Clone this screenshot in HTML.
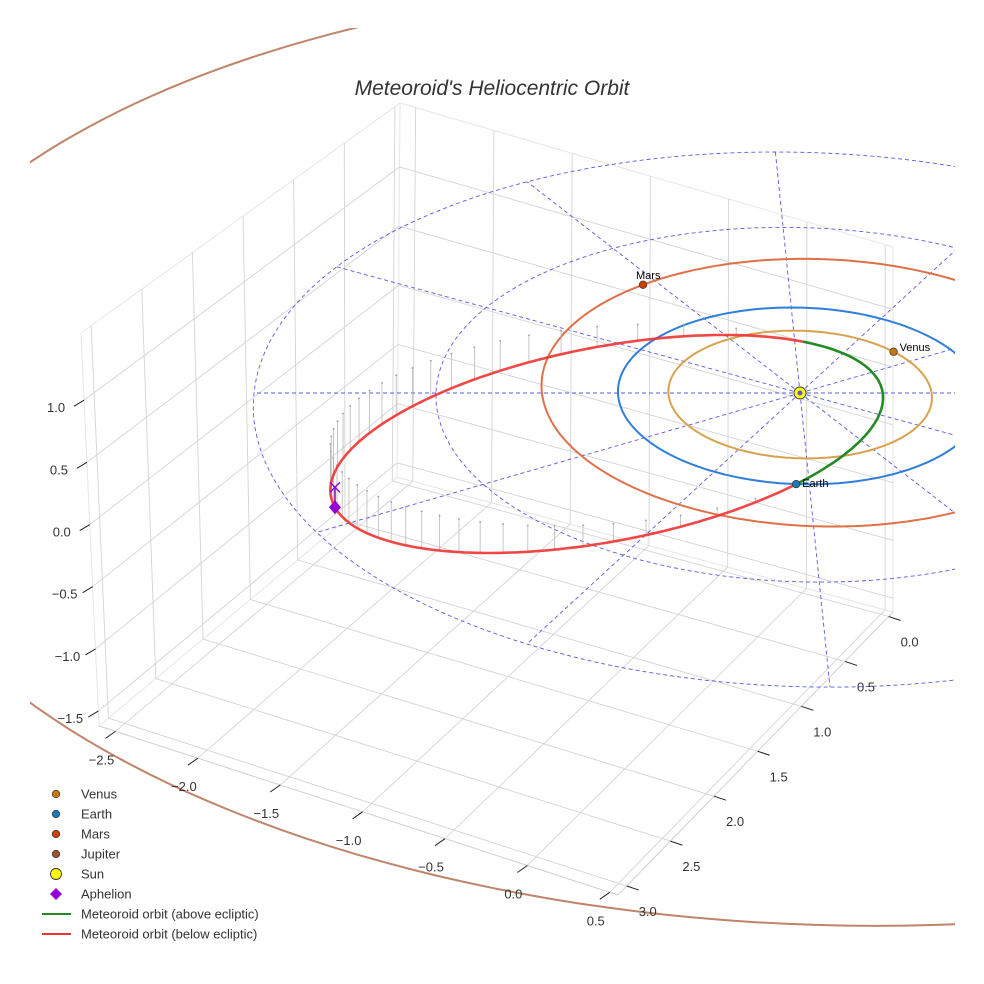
<!DOCTYPE html>
<html><head><meta charset="utf-8">
<style>
html,body{margin:0;padding:0;background:#fff;}
svg{display:block;font-family:"Liberation Sans",sans-serif;}
</style></head>
<body>
<svg id="chart" width="984" height="984" viewBox="0 0 984 984" xmlns="http://www.w3.org/2000/svg">
<defs><clipPath id="clip"><rect x="30" y="28" width="925" height="940"/></clipPath></defs>
<text x="492" y="95" text-anchor="middle" font-size="21" font-style="italic" fill="#333">Meteoroid's Heliocentric Orbit</text>
<g id="box"></g>
<g id="scene" clip-path="url(#clip)"></g>
<g id="ticks"></g>
<g id="legend"></g>
</svg>
<script>
// ---- data ----
const xTicks=[-2.5,-2.0,-1.5,-1.0,-0.5,0.0,0.5];
const yTicks=[0.0,0.5,1.0,1.5,2.0,2.5,3.0];
const zTicks=[-1.5,-1.0,-0.5,0.0,0.5,1.0];
const xRange=[-2.6,0.55];
const yRange=[-0.05,3.1];
const zRange=[-1.62,1.54];
const planetNames=["Venus","Earth","Mars","Jupiter"];
const planetRadius=[0.723,1.0,1.52,5.28];
const planetCenterU=[0,0,0.1,0.1];
const planetCenterV=[0,0,-0.08,-0.25];
const planetAngle=[-41,94,232,-10];
const planetColor=["#c8770f","#1f77b4","#c8400a","#a0522d"];
const orbitColor=["#d9a24e","#2f7fd8","#e0704a","#bf8469"];
const gridRadii=[1,2,3];
const gridSpokes=[0,30,60,90,120,150,180,210,240,270,300,330];
const meteorA=[1.5375];
const meteorE=[0.717];
const meteorPeriDeg=[-16.7];
const meteorNodeDeg=[-86];
const meteorIncl=[0.15];
const legendLabels=["Venus","Earth","Mars","Jupiter","Sun","Aphelion","Meteoroid orbit (above ecliptic)","Meteoroid orbit (below ecliptic)"];

const NS="http://www.w3.org/2000/svg";
function mk(tag,attrs,parent){const e=document.createElementNS(NS,tag);for(const k in attrs)e.setAttribute(k,attrs[k]);parent.appendChild(e);return e;}
const lerp=(a,b,t)=>[a[0]+(b[0]-a[0])*t,a[1]+(b[1]-a[1])*t];
// box corners (screen)
const L=[99,726],F=[618,895],B=[397,477],R=[893,612],LT=[81,333],BT=[400,103],RT=[893,247];
const fx=x=>(x-xRange[0])/(xRange[1]-xRange[0]);
const fy=y=>(y-yRange[0])/(yRange[1]-yRange[0]);
const fz=z=>(z-zRange[0])/(zRange[1]-zRange[0]);
const box=document.getElementById('box');
function gl(p,q,c,w){const l=mk('line',{x1:p[0],y1:p[1],x2:q[0],y2:q[1],stroke:c||'#d4d4d4','stroke-width':w||0.9},box);

}
// pane edges
[[L,B],[B,R],[B,BT],[L,LT],[LT,BT],[BT,RT],[R,RT]].forEach(s=>gl(s[0],s[1],'#e6e6e6',1));
gl(L,F,'#d0d0d0',1);gl(R,F,'#d0d0d0',1);
xTicks.forEach(x=>{const t=fx(x);gl(lerp(L,F,t),lerp(B,R,t));gl(lerp(B,R,t),lerp(BT,RT,t));});
yTicks.forEach(y=>{const s=fy(y);gl(lerp(B,L,s),lerp(R,F,s));gl(lerp(B,L,s),lerp(BT,LT,s));});
zTicks.forEach(z=>{const w=fz(z);gl(lerp(B,BT,w),lerp(L,LT,w));gl(lerp(B,BT,w),lerp(R,RT,w));});

// ticks
const tk=document.getElementById('ticks');
function tick(p,d,lab,off,name){
 const l=mk('line',{x1:p[0],y1:p[1],x2:p[0]+d[0],y2:p[1]+d[1],stroke:'#222','stroke-width':1},tk);
 
 
 const t=mk('text',{x:p[0]+off[0],y:p[1]+off[1],'text-anchor':'middle','font-size':13,fill:'#333'},tk);
 
 
 t.textContent=lab;}
const fmt=v=>(v<0?'\u2212':'')+Math.abs(v).toFixed(1);
xTicks.forEach(x=>tick(lerp(L,F,fx(x)),[-10,7],fmt(x),[-14,33],'x-tick'));
yTicks.forEach(y=>tick(lerp(R,F,fy(y)),[12,4],fmt(y),[21,30],'y-tick'));
zTicks.forEach(z=>tick(lerp(L,LT,fz(z)),[-10,6],fmt(z),[-28,12],'z-tick'));

// ecliptic projection
function P(u,v,z){const d=1-0.0331*v;return [800+(182*u+9*v)/d,393+(88.3*v-120*(z||0))/d];}
const sc=document.getElementById('scene');
function poly(pts,attrs,name){const p=mk('polyline',Object.assign({points:pts.map(q=>q[0].toFixed(1)+','+q[1].toFixed(1)).join(' '),fill:'none'},attrs),sc);
 
 return p;}
function circ(cu,cv,r){const a=[];for(let i=0;i<=240;i++){const t=i/240*2*Math.PI;a.push(P(cu+r*Math.cos(t),cv+r*Math.sin(t)));}return a;}
// Jupiter orbit
poly(circ(planetCenterU[3],planetCenterV[3],planetRadius[3]),{stroke:orbitColor[3],'stroke-width':2},'jupiter-orbit');
// dashed grid
gridRadii.forEach(r=>poly(circ(0,0,r),{stroke:'#5a5ae6','stroke-width':0.9,'stroke-dasharray':'4,3'},'ecliptic-grid-circle'));
gridSpokes.forEach(a=>{const t=a*Math.PI/180;poly([P(0,0),P(3*Math.cos(t),3*Math.sin(t))],{stroke:'#5a5ae6','stroke-width':0.9,'stroke-dasharray':'4,3'},'ecliptic-grid-spoke');});
// planet orbits
for(let i=0;i<3;i++)poly(circ(planetCenterU[i],planetCenterV[i],planetRadius[i]),{stroke:orbitColor[i],'stroke-width':2},planetNames[i].toLowerCase()+'-orbit');

// meteoroid orbit
const a=meteorA[0],e=meteorE[0],w=meteorPeriDeg[0]*Math.PI/180,Om=meteorNodeDeg[0]*Math.PI/180,k=meteorIncl[0];
function pos(f){const r=a*(1-e*e)/(1+e*Math.cos(f));const th=f+w;return [r*Math.cos(th),r*Math.sin(th),r*k*Math.sin(th-Om)];}
const N=400,pts=[];
for(let i=0;i<=N;i++){const M=i/N*2*Math.PI;let E=M;for(let j=0;j<30;j++)E=E-(E-e*Math.sin(E)-M)/(1-e*Math.cos(E));
 const f=2*Math.atan2(Math.sqrt(1+e)*Math.sin(E/2),Math.sqrt(1-e)*Math.cos(E/2));pts.push(pos(f));}
// stems
pts.forEach((p,i)=>{if(i%8!==4||p[2]>=0)return;const s=P(p[0],p[1],p[2]),g=P(p[0],p[1],0);
 const l=mk('line',{x1:s[0],y1:s[1],x2:g[0],y2:g[1],stroke:'#b8b8b8','stroke-width':0.8},sc);
 
 
 const d=mk('circle',{cx:g[0],cy:g[1],r:0.9,fill:'#999'},sc);
 
 });
// segments by sign
let seg=[],sign=null;
function flush(){if(seg.length>1)poly(seg,{stroke:sign>0?'#228b22':'#ee3333','stroke-width':2.6,'stroke-linejoin':'round','stroke-opacity':sign>0?1:0.9},sign>0?'meteoroid-orbit-above':'meteoroid-orbit-below');}
pts.forEach(p=>{const s=p[2]>=0?1:-1;const q=P(p[0],p[1],p[2]);if(sign!==null&&s!==sign){seg.push(q);flush();seg=[q];}else seg.push(q);sign=s;});
flush();
// aphelion
const ap=pos(Math.PI),apS=P(ap[0],ap[1],ap[2]);
const apl=mk('line',{x1:apS[0],y1:apS[1],x2:apS[0],y2:apS[1]-20,stroke:'#9a40c0','stroke-width':2},sc);


const xm=mk('path',{d:`M${apS[0]-5},${apS[1]-25}L${apS[0]+5},${apS[1]-15}M${apS[0]+5},${apS[1]-25}L${apS[0]-5},${apS[1]-15}`,stroke:'#9400d3','stroke-width':1.4},sc);


const dm=mk('path',{d:`M${apS[0]},${apS[1]-7}L${apS[0]+6},${apS[1]}L${apS[0]},${apS[1]+7}L${apS[0]-6},${apS[1]}Z`,fill:'#9400d3'},sc);


// planets
for(let i=0;i<4;i++){const t=planetAngle[i]*Math.PI/180;const p=P(planetCenterU[i]+planetRadius[i]*Math.cos(t),planetCenterV[i]+planetRadius[i]*Math.sin(t));
 const c=mk('circle',{cx:p[0],cy:p[1],r:3.8,fill:planetColor[i],stroke:'#333','stroke-width':0.7},sc);
 
 
 const off=i===2?[-7,-6]:[6,-1];
 const tx=mk('text',{x:p[0]+off[0],y:p[1]+off[1]+(i===1?4:0),'font-size':11,fill:'#000'},sc);
 
 
 tx.textContent=planetNames[i];}
const sp=P(0,0);
const sun=mk('circle',{cx:sp[0],cy:sp[1],r:6,fill:'#ffff00',stroke:'#333','stroke-width':0.9},sc);


const sun2=mk('circle',{cx:sp[0],cy:sp[1],r:2.5,fill:'#5560c0'},sc);



// legend
const lg=document.getElementById('legend');
legendLabels.forEach((lab,i)=>{const y=794+i*20;let m;
 if(i<4)m=mk('circle',{cx:56,cy:y,r:3.8,fill:planetColor[i],stroke:'#333','stroke-width':0.7},lg);
 else if(i===4)m=mk('circle',{cx:56,cy:y,r:5.5,fill:'#ffff00',stroke:'#333','stroke-width':0.9},lg);
 else if(i===5)m=mk('path',{d:`M56,${y-6}L62,${y}L56,${y+6}L50,${y}Z`,fill:'#9400d3'},lg);
 else m=mk('line',{x1:42,y1:y,x2:71,y2:y,stroke:i===6?'#228b22':'#ee3333','stroke-width':2},lg);
 
 
 const t=mk('text',{x:81,y:y+4.5,'font-size':13,fill:'#333'},lg);
 
 
 t.textContent=lab;});
</script>
</body></html>
